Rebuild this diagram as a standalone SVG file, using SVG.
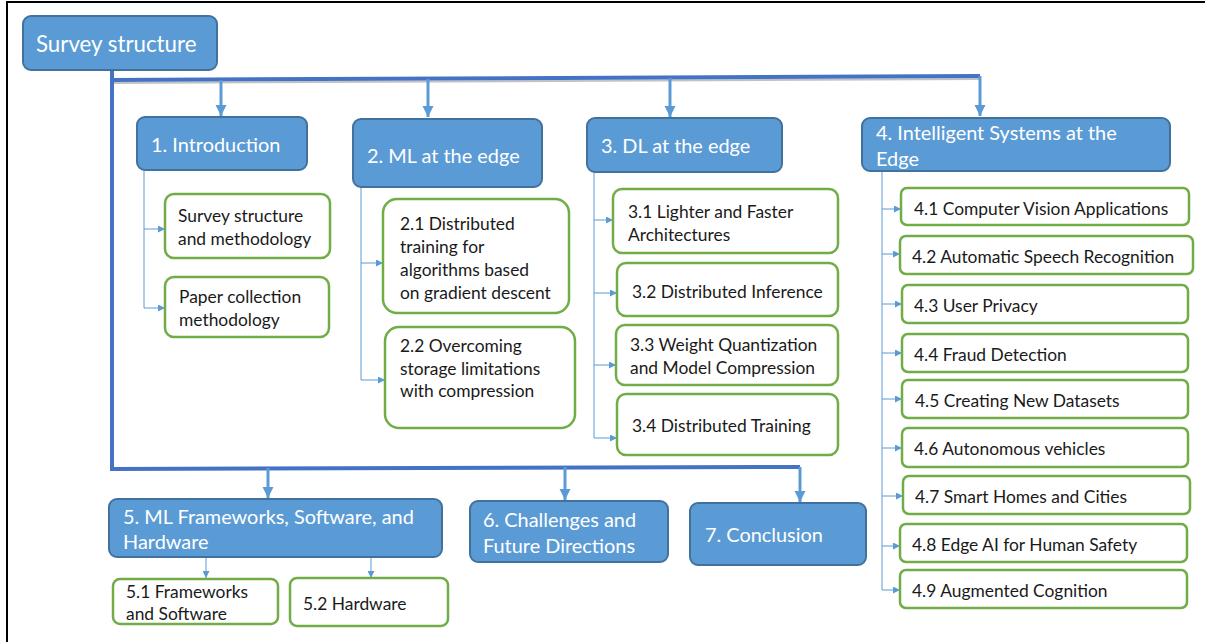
<svg xmlns="http://www.w3.org/2000/svg" width="1205" height="642" viewBox="0 0 1205 642">
<defs>
<style>
.main{fill:#5B9BD5;stroke:#41719C;stroke-width:2}
.sub{fill:#fff;stroke:#70AD47;stroke-width:2.5}
.t0{font-family:Lato,"Carlito","Liberation Sans",sans-serif;font-size:22.3px;fill:#fff}
.t1{font-family:Lato,"Carlito","Liberation Sans",sans-serif;font-size:19.9px;fill:#fff}
.t2{font-family:Lato,"Carlito","Liberation Sans",sans-serif;font-size:17.4px;fill:#1a1a1a}
.trunk{fill:none;stroke:#4472C4;stroke-width:4}
.shadow{fill:none;stroke:#9a9a9a;stroke-width:2;opacity:0.6}
.big{fill:none;stroke:#5B9BD5;stroke-width:3}
.thin{fill:none;stroke:#5B9BD5;stroke-width:1}
</style>
<marker id="ah" viewBox="0 0 10 10" refX="10" refY="5" markerWidth="11" markerHeight="13" markerUnits="userSpaceOnUse" orient="auto">
<path d="M0,0 L10,5 L0,10 z" fill="#5B9BD5"/>
</marker>
<marker id="as" viewBox="0 0 10 10" refX="10" refY="5" markerWidth="7" markerHeight="7" markerUnits="userSpaceOnUse" orient="auto">
<path d="M0,0 L10,5 L0,10 z" fill="#5B9BD5"/>
</marker>
</defs>
<rect width="1205" height="642" fill="#fff"/>
<path d="M7,642 L7,2 L1205,2" fill="none" stroke="#000" stroke-width="2"/>

<g id="connectors">
<path class="shadow" d="M114,83 L980,79"/>
<path class="trunk" d="M112,70 L112,469 L800,467"/>
<path class="trunk" d="M110,80 L980,76"/>
<path class="big" d="M221,80 L221,116" marker-end="url(#ah)"/>
<path class="big" d="M428,79 L428,117" marker-end="url(#ah)"/>
<path class="big" d="M670,78 L670,117" marker-end="url(#ah)"/>
<path class="big" d="M980,76 L980,116" marker-end="url(#ah)"/>
<path class="big" d="M268,468 L268,498" marker-end="url(#ah)"/>
<path class="big" d="M565,467 L565,500" marker-end="url(#ah)"/>
<path class="big" d="M800,467 L800,502" marker-end="url(#ah)"/>
<path class="thin" d="M144,170 L144,308"/>
<path class="thin" d="M144,229 L165,229" marker-end="url(#as)"/>
<path class="thin" d="M144,308 L165,308" marker-end="url(#as)"/>
<path class="thin" d="M361,187 L361,380"/>
<path class="thin" d="M361,263 L383,263" marker-end="url(#as)"/>
<path class="thin" d="M361,380 L385,380" marker-end="url(#as)"/>
<path class="thin" d="M594,172 L594,438"/>
<path class="thin" d="M594,220 L613,220" marker-end="url(#as)"/>
<path class="thin" d="M594,293 L617,293" marker-end="url(#as)"/>
<path class="thin" d="M594,365 L616,365" marker-end="url(#as)"/>
<path class="thin" d="M594,438 L617,438" marker-end="url(#as)"/>
<path class="thin" d="M882,171 L882,590"/>
<path class="thin" d="M882,209 L901,209" marker-end="url(#as)"/>
<path class="thin" d="M882,254 L900,254" marker-end="url(#as)"/>
<path class="thin" d="M882,304 L902,304" marker-end="url(#as)"/>
<path class="thin" d="M882,353 L902,353" marker-end="url(#as)"/>
<path class="thin" d="M882,399 L902,399" marker-end="url(#as)"/>
<path class="thin" d="M882,448 L902,448" marker-end="url(#as)"/>
<path class="thin" d="M882,496 L903,496" marker-end="url(#as)"/>
<path class="thin" d="M882,546 L900,546" marker-end="url(#as)"/>
<path class="thin" d="M882,590 L900,590" marker-end="url(#as)"/>
<path class="thin" d="M206,557 L206,578" marker-end="url(#as)"/>
<path class="thin" d="M371,557 L371,578" marker-end="url(#as)"/>
</g>

<g id="root"><rect class="main" x="23" y="16" width="194" height="54" rx="8"/><text class="t0" x="36" y="52">Survey structure</text></g>

<g id="n1"><rect class="main" x="137" y="117" width="170" height="53" rx="8"/><text class="t1" x="151" y="152">1. Introduction</text></g>
<g id="n2"><rect class="main" x="353" y="119" width="189" height="68" rx="8"/><text class="t1" x="367" y="163">2. ML at the edge</text></g>
<g id="n3"><rect class="main" x="587" y="118" width="195" height="54" rx="8"/><text class="t1" x="601" y="153">3. DL at the edge</text></g>
<g id="n4"><rect class="main" x="862" y="118" width="308" height="53" rx="8"/><text class="t1" x="876" y="140">4. Intelligent Systems at the</text><text class="t1" x="876" y="166">Edge</text></g>
<g id="n5"><rect class="main" x="109" y="499" width="333" height="58" rx="8"/><text class="t1" x="123" y="524">5. ML Frameworks, Software, and</text><text class="t1" x="123" y="549">Hardware</text></g>
<g id="n6"><rect class="main" x="470" y="501" width="198" height="61" rx="8"/><text class="t1" x="483" y="527">6. Challenges and</text><text class="t1" x="483" y="553">Future Directions</text></g>
<g id="n7"><rect class="main" x="690" y="503" width="176" height="62" rx="8"/><text class="t1" x="705" y="542">7. Conclusion</text></g>

<g id="n1_1"><rect class="sub" x="165" y="194" width="165" height="64" rx="9"/><text class="t2" x="178" y="222">Survey structure</text><text class="t2" x="178" y="245">and methodology</text></g>
<g id="n1_2"><rect class="sub" x="165" y="277" width="164" height="60" rx="9"/><text class="t2" x="179" y="303">Paper collection</text><text class="t2" x="179" y="326">methodology</text></g>

<g id="n2_1"><rect class="sub" x="383" y="199" width="186" height="114" rx="14"/><text class="t2" x="400" y="230">2.1 Distributed</text><text class="t2" x="400" y="253">training for</text><text class="t2" x="400" y="276">algorithms based</text><text class="t2" x="400" y="299">on gradient descent</text></g>
<g id="n2_2"><rect class="sub" x="385" y="327" width="190" height="101" rx="14"/><text class="t2" x="400" y="352">2.2 Overcoming</text><text class="t2" x="400" y="375">storage limitations</text><text class="t2" x="400" y="397">with compression</text></g>

<g id="n3_1"><rect class="sub" x="613" y="189" width="225" height="64" rx="9"/><text class="t2" x="628" y="218">3.1 Lighter and Faster</text><text class="t2" x="628" y="241">Architectures</text></g>
<g id="n3_2"><rect class="sub" x="617" y="263" width="221" height="53" rx="9"/><text class="t2" x="632" y="298">3.2 Distributed Inference</text></g>
<g id="n3_3"><rect class="sub" x="616" y="325" width="222" height="60" rx="9"/><text class="t2" x="630" y="351">3.3 Weight Quantization</text><text class="t2" x="630" y="374">and Model Compression</text></g>
<g id="n3_4"><rect class="sub" x="617" y="394" width="221" height="61" rx="9"/><text class="t2" x="632" y="432">3.4 Distributed Training</text></g>

<g id="n4_1"><rect class="sub" x="901" y="188" width="288" height="37" rx="6"/><text class="t2" x="914" y="215">4.1 Computer Vision Applications</text></g>
<g id="n4_2"><rect class="sub" x="900" y="236" width="293" height="38" rx="6"/><text class="t2" x="912" y="263">4.2 Automatic Speech Recognition</text></g>
<g id="n4_3"><rect class="sub" x="902" y="285" width="286" height="38" rx="6"/><text class="t2" x="914" y="312">4.3 User Privacy</text></g>
<g id="n4_4"><rect class="sub" x="902" y="334" width="286" height="38" rx="6"/><text class="t2" x="914" y="361">4.4 Fraud Detection</text></g>
<g id="n4_5"><rect class="sub" x="902" y="380" width="286" height="38" rx="6"/><text class="t2" x="915" y="407">4.5 Creating New Datasets</text></g>
<g id="n4_6"><rect class="sub" x="902" y="428" width="286" height="39" rx="6"/><text class="t2" x="914" y="455">4.6 Autonomous vehicles</text></g>
<g id="n4_7"><rect class="sub" x="903" y="476" width="287" height="38" rx="6"/><text class="t2" x="915" y="503">4.7 Smart Homes and Cities</text></g>
<g id="n4_8"><rect class="sub" x="900" y="524" width="287" height="38" rx="6"/><text class="t2" x="912" y="551">4.8 Edge AI for Human Safety</text></g>
<g id="n4_9"><rect class="sub" x="900" y="570" width="287" height="38" rx="6"/><text class="t2" x="912" y="597">4.9 Augmented Cognition</text></g>

<g id="n5_1"><rect class="sub" x="113" y="579" width="165" height="45" rx="7"/><text class="t2" x="126" y="598">5.1 Frameworks</text><text class="t2" x="126" y="620">and Software</text></g>
<g id="n5_2"><rect class="sub" x="290" y="578" width="158" height="48" rx="7"/><text class="t2" x="303" y="610">5.2 Hardware</text></g>
</svg>
